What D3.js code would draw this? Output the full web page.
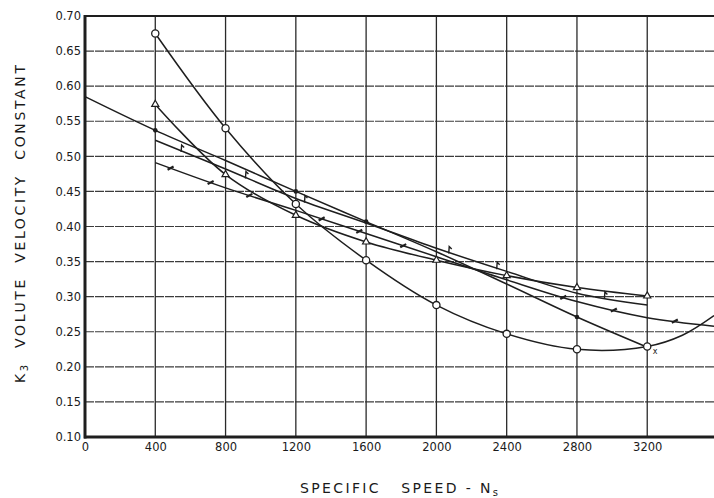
<!DOCTYPE html>
<html>
<head>
<meta charset="utf-8">
<script src="https://cdn.jsdelivr.net/npm/d3@7"></script>
<style>
  html, body { margin: 0; padding: 0; background: #fff; }
  svg { display: block; }
  text { font-family: "DejaVu Sans", "Liberation Sans", sans-serif; fill: #1a1a1a; }
</style>
</head>
<body>
<svg id="chart" width="714" height="498"></svg>
<script>
// ---- data ----
const xTicks = [0, 400, 800, 1200, 1600, 2000, 2400, 2800, 3200];
const yTicks = [0.10, 0.15, 0.20, 0.25, 0.30, 0.35, 0.40, 0.45, 0.50, 0.55, 0.60, 0.65, 0.70];

// circle-marked curve
const circleX = [400, 800, 1200, 1600, 2000, 2400, 2800, 3200, 3400, 3580];
const circleY = [0.675, 0.540, 0.432, 0.352, 0.288, 0.247, 0.225, 0.229, 0.245, 0.273];
const circleMarked = [400, 800, 1200, 1600, 2000, 2400, 2800, 3200];

// triangle-marked curve
const triX = [400, 800, 1200, 1600, 2000, 2400, 2800, 3200];
const triY = [0.574, 0.474, 0.416, 0.378, 0.352, 0.330, 0.313, 0.301];

// dot-marked nearly straight line
const dotX = [0, 400, 800, 1200, 1600, 2000, 2400, 2800, 3200];
const dotY = [0.585, 0.537, 0.494, 0.450, 0.407, 0.364, 0.318, 0.271, 0.228];
const dotMarked = [400, 1200, 1600, 2800];

// flag-marked curve
const flagX = [400, 800, 1200, 1600, 2000, 2400, 2800, 3200];
const flagY = [0.523, 0.482, 0.440, 0.405, 0.369, 0.336, 0.305, 0.288];
const flagMarkX = [550, 916, 1252, 2073, 2346, 2959];

// slash-marked curve
const slashX = [400, 800, 1200, 1600, 2000, 2400, 2800, 3200, 3580];
const slashY = [0.491, 0.455, 0.423, 0.390, 0.357, 0.324, 0.293, 0.270, 0.258];
const slashMarkX = [487, 715, 935, 1347, 1561, 1811, 2722, 3010, 3357];

// ---- drawing ----
const svg = d3.select("#chart");
const x = d3.scaleLinear().domain([0, 3580]).range([85, 714]);
const y = d3.scaleLinear().domain([0.10, 0.70]).range([437, 16]);
const ink = "#1e1e1e";

// grid
const grid = svg.append("g");
grid.selectAll("line.h").data(yTicks.filter(v => v > 0.11 && v < 0.69)).enter()
  .append("line").attr("x1", x(0)).attr("x2", 714)
  .attr("y1", d => y(d)).attr("y2", d => y(d))
  .attr("stroke", "#3c3c3c").attr("stroke-width", 1.1).attr("stroke-dasharray", "9,1");
grid.selectAll("line.v").data(xTicks.filter(v => v > 0)).enter()
  .append("line").attr("y1", y(0.70)).attr("y2", y(0.10))
  .attr("x1", d => x(d)).attr("x2", d => x(d))
  .attr("stroke", "#2a2a2a").attr("stroke-width", 1.3);

// frame
svg.append("line").attr("x1", x(0)).attr("x2", 714).attr("y1", y(0.70)).attr("y2", y(0.70))
  .attr("stroke", ink).attr("stroke-width", 2.2);
svg.append("line").attr("x1", x(0) - 1).attr("x2", 714).attr("y1", y(0.10)).attr("y2", y(0.10))
  .attr("stroke", ink).attr("stroke-width", 3);
svg.append("line").attr("x1", x(0)).attr("x2", x(0)).attr("y1", y(0.70) - 1).attr("y2", y(0.10) + 1.5)
  .attr("stroke", ink).attr("stroke-width", 3);

// axes (labels only)
const yAxis = d3.axisLeft(y).tickValues(yTicks).tickSize(0).tickPadding(0).tickFormat(d3.format(".2f"));
const gy = svg.append("g").attr("transform", `translate(${x(0) - 4},0)`).call(yAxis);
gy.select(".domain").remove();
gy.selectAll("text").style("font-size", "11.5px").attr("fill", ink)
  .style("font-family", "'DejaVu Sans', sans-serif");

const xAxis = d3.axisBottom(x).tickValues(xTicks).tickSize(0).tickPadding(0).tickFormat(d3.format("d"));
const gx = svg.append("g").attr("transform", `translate(0,${y(0.10) + 6})`).call(xAxis);
gx.select(".domain").remove();
gx.selectAll("text").style("font-size", "11.5px").attr("fill", ink)
  .style("font-family", "'DejaVu Sans', sans-serif");

// curves
const line = d3.line().x(d => x(d[0])).y(d => y(d[1])).curve(d3.curveCatmullRom.alpha(0.5));
function drawCurve(xs, ys) {
  const pts = xs.map((v, i) => [v, ys[i]]);
  svg.append("path").datum(pts).attr("d", line)
    .attr("fill", "none").attr("stroke", ink).attr("stroke-width", 1.5);
  return pts;
}
function interp(xs, ys, v) {
  // seat a marker glyph on its curve
  for (let i = 0; i < xs.length - 1; i++) {
    if (v >= xs[i] && v <= xs[i + 1]) {
      const t = (v - xs[i]) / (xs[i + 1] - xs[i]);
      return ys[i] + t * (ys[i + 1] - ys[i]);
    }
  }
  return ys[ys.length - 1];
}

drawCurve(dotX, dotY);
drawCurve(slashX, slashY);
drawCurve(flagX, flagY);
drawCurve(triX, triY);
drawCurve(circleX, circleY);

// dot markers
svg.append("g").selectAll("circle").data(dotMarked).enter().append("circle")
  .attr("cx", d => x(d)).attr("cy", d => y(interp(dotX, dotY, d))).attr("r", 2.3).attr("fill", ink);

// flag markers
svg.append("g").selectAll("path").data(flagMarkX).enter().append("path")
  .attr("transform", d => `translate(${x(d)},${y(interp(flagX, flagY, d))})`)
  .attr("d", "M-0.5,1 L0,-6 L2.5,-3.5")
  .attr("fill", "none").attr("stroke", ink).attr("stroke-width", 1.4);

// slash markers
svg.append("g").selectAll("path").data(slashMarkX).enter().append("path")
  .attr("transform", d => `translate(${x(d)},${y(interp(slashX, slashY, d))})`)
  .attr("d", "M-3,1.6 L3,-1.6")
  .attr("fill", "none").attr("stroke", ink).attr("stroke-width", 2.2);

// triangle markers
svg.append("g").selectAll("path").data(triX).enter().append("path")
  .attr("transform", (d, i) => `translate(${x(d)},${y(triY[i])})`)
  .attr("d", d3.symbol().type(d3.symbolTriangle).size(22))
  .attr("fill", "#fff").attr("stroke", ink).attr("stroke-width", 1.2);

// circle markers
svg.append("g").selectAll("circle").data(circleMarked).enter().append("circle")
  .attr("cx", d => x(d)).attr("cy", d => y(interp(circleX, circleY, d))).attr("r", 3.6)
  .attr("fill", "#fff").attr("stroke", ink).attr("stroke-width", 1.3);

// small "x" next to the last circle
svg.append("text").attr("x", x(3245)).attr("y", y(0.222)).attr("text-anchor", "middle")
  .attr("dy", "0.35em").style("font-size", "8px").text("x");

// titles
const yt = svg.append("text")
  .attr("transform", `translate(25,${(65 + 383) / 2}) rotate(-90)`)
  .attr("text-anchor", "middle").style("font-size", "14px")
  .attr("textLength", 318).attr("lengthAdjust", "spacing")
  .style("white-space", "pre");
yt.append("tspan").text("K");
yt.append("tspan").attr("dy", 3).style("font-size", "10px").text("3");
yt.append("tspan").attr("dy", -3).text("  VOLUTE  VELOCITY  CONSTANT");

const xt = svg.append("text")
  .attr("x", 399).attr("y", 493).attr("text-anchor", "middle").style("font-size", "14px")
  .attr("textLength", 198).attr("lengthAdjust", "spacing").style("white-space", "pre");
xt.append("tspan").text("SPECIFIC   SPEED - N");
xt.append("tspan").attr("dy", 3).style("font-size", "10px").text("s");
</script>
</body>
</html>
